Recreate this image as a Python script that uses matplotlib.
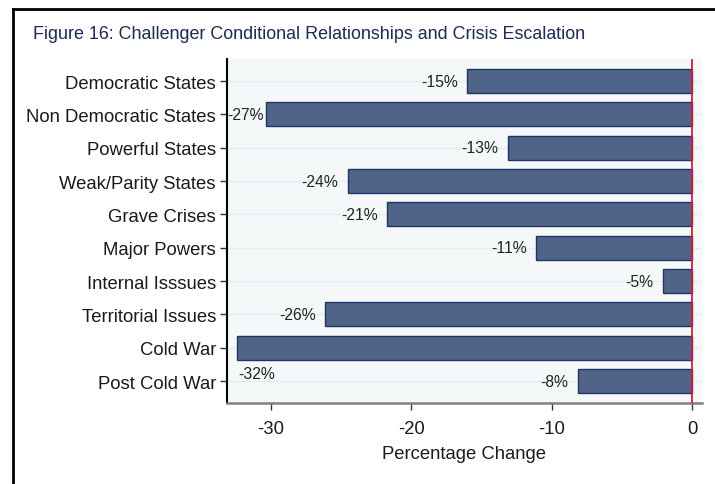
import matplotlib
matplotlib.use("Agg")
import matplotlib.pyplot as plt
from matplotlib.lines import Line2D
import numpy as np

# data
categories = ["Democratic States", "Non Democratic States", "Powerful States",
              "Weak/Parity States", "Grave Crises", "Major Powers",
              "Internal Isssues", "Territorial Issues", "Cold War", "Post Cold War"]
bar_values = [-16.0, -30.3, -13.1, -24.5, -21.7, -11.1, -2.1, -26.1, -32.4, -8.1]
value_labels = ["-15%", "-27%", "-13%", "-24%", "-21%", "-11%", "-5%", "-26%", "-32%", "-8%"]
x_ticks = [-30, -20, -10, 0]

plt.rcParams['font.family'] = ['Liberation Sans', 'DejaVu Sans']

fig = plt.figure(figsize=(7.15, 4.85), dpi=100)
fig.patch.set_facecolor("white")
ax = fig.add_axes([0.3175, 0.167, 0.6643, 0.709])
ax.set_facecolor("#f5f8f9")

y = np.arange(len(categories))
ax.barh(y, bar_values, height=0.72, color="#506489", edgecolor="#1f3563", linewidth=1.0, zorder=3)
ax.axvline(0, color="#d41a3c", linewidth=1.3, zorder=4)

for i, (v, lab) in enumerate(zip(bar_values, value_labels)):
    if lab == "-32%":
        # label sits under the bar, starting at the bar end
        ax.annotate(lab, (v, i), xytext=(1, -13), textcoords="offset points",
                    ha="left", va="top", fontsize=11.3, color="#222222")
    elif lab == "-27%":
        ax.annotate(lab, (v, i), xytext=(-2, 0), textcoords="offset points",
                    ha="right", va="center", fontsize=11.3, color="#222222")
    else:
        ax.annotate(lab, (v, i), xytext=(-7, 0), textcoords="offset points",
                    ha="right", va="center", fontsize=11.3, color="#222222")

ax.set_xlim(-33.1, 0.7)
ax.set_ylim(len(categories) - 0.34, -0.66)
ax.set_yticks(y)
ax.set_yticklabels(categories, fontsize=13.3, color="#1a1a1a")
ax.set_xticks(x_ticks)
ax.set_xticklabels([str(t) for t in x_ticks], fontsize=13.3, color="#1a1a1a")
ax.tick_params(axis="both", direction="out", length=5, width=1.0, color="#333333")
ax.tick_params(axis="x", pad=7)
ax.tick_params(axis="y", pad=3)
ax.set_xlabel("Percentage Change", fontsize=13.3, color="#1a1a1a", labelpad=6)

ax.yaxis.grid(True, color="#e2ecf1", linewidth=1.0, zorder=0)
ax.set_axisbelow(True)

for s in ["top", "right"]:
    ax.spines[s].set_visible(False)
ax.spines["left"].set_color("black")
ax.spines["left"].set_linewidth(1.5)
ax.spines["bottom"].set_color("#808080")
ax.spines["bottom"].set_linewidth(1.8)

# outer frame (top and left edges only visible)
fig.add_artist(Line2D([0.018, 1.0], [0.979, 0.979], transform=fig.transFigure, color="black", linewidth=2))
fig.add_artist(Line2D([0.018, 0.018], [0.0, 0.979], transform=fig.transFigure, color="black", linewidth=2))

fig.text(0.046, 0.928, "Figure 16: Challenger Conditional Relationships and Crisis Escalation",
         fontsize=12.9, color="#1c2b52", ha="left", va="center")

fig.savefig("out.png", dpi=100)
